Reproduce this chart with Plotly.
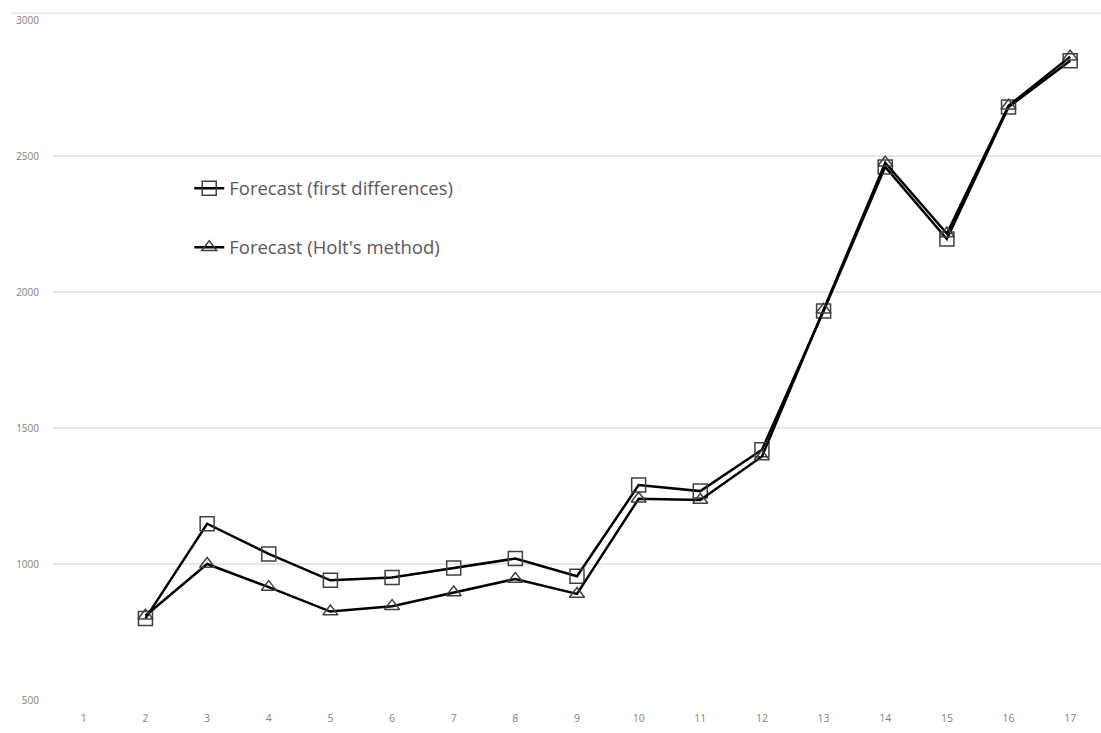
import plotly.graph_objects as go

periods = list(range(1, 18))
first_diff = [None, 800, 1148, 1037, 940, 950, 985, 1020, 955, 1290, 1268, 1420, 1930, 2460, 2195, 2680, 2850]
holt = [None, 810, 1000, 915, 825, 845, 895, 945, 890, 1240, 1235, 1395, 1935, 2475, 2215, 2685, 2865]
y_ticks = [500, 1000, 1500, 2000, 2500, 3000]

fig = go.Figure()
fig.add_trace(go.Scatter(
    x=periods, y=first_diff, mode="lines+markers",
    name="Forecast (first differences)", legendgroup="a",
    line=dict(color="black", width=2.5),
    marker=dict(symbol="square-open", size=14, color="#404040", line=dict(width=1.5, color="#404040")),
))
fig.add_trace(go.Scatter(
    x=periods, y=holt, mode="lines+markers",
    name="Forecast (Holt's method)", legendgroup="b",
    line=dict(color="black", width=2.5),
    marker=dict(symbol="triangle-up-open", size=13, color="#404040", line=dict(width=1.5, color="#404040")),
))

fig.update_layout(
    width=1101, height=733,
    margin=dict(l=53, r=0, t=20, b=33),
    plot_bgcolor="white", paper_bgcolor="white",
    font=dict(family="Open Sans", color="#595959"),
    legend=dict(
        x=0.13, y=0.78, xanchor="left", yanchor="top",
        font=dict(size=18.5, color="#595959"),
        tracegroupgap=32, bgcolor="rgba(0,0,0,0)",
    ),
    xaxis=dict(
        type="linear", range=[0.5, 17.5], tickvals=periods,
        showgrid=False, zeroline=False, showline=False,
        tickfont=dict(size=10.5, color="#7f7f7f"), ticks="", ticklabelstandoff=10,
    ),
    yaxis=dict(
        range=[500, 3000], tickvals=y_ticks,
        showgrid=True, gridcolor="#e6e6e6", gridwidth=1.5,
        zeroline=False, showline=False, ticks="",
        tickfont=dict(size=10, color="#7f7f7f"), ticklabelstandoff=13,
    ),
)
fig.add_shape(type="line", xref="paper", yref="paper", x0=-0.04, x1=1, y0=1.01, y1=1.01,
              line=dict(color="#ececec", width=2))

fig.write_html("out.html")
